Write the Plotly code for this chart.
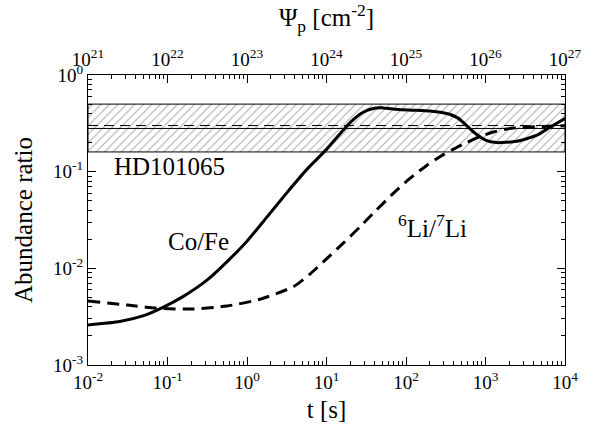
import plotly.graph_objects as go

# Co/Fe ratio versus log10 t [s]
co_fe_logt = [-2.0, -1.6, -1.3, -1.07, -0.8, -0.5, -0.25, 0.0, 0.25, 0.5, 0.75, 1.0, 1.2, 1.3, 1.45, 1.6,
              1.7, 1.75, 1.9, 2.1, 2.3, 2.45, 2.55, 2.65, 2.72, 2.85, 3.0, 3.14, 3.39, 3.64, 3.81, 4.0]
co_fe = [0.0026, 0.00282, 0.00324, 0.0039, 0.00513, 0.00759, 0.01175, 0.0191, 0.0339, 0.0603, 0.105, 0.170,
         0.263, 0.324, 0.407, 0.452, 0.457, 0.452, 0.44, 0.433, 0.424, 0.41, 0.393, 0.36, 0.323, 0.257, 0.212,
         0.200, 0.206, 0.237, 0.288, 0.355]

# 6Li/7Li ratio versus log10 t [s]
li_logt = [-2.0, -1.5, -1.094, -0.675, -0.255, 0.164, 0.583, 0.792, 1.003, 1.211, 1.421, 1.631, 1.84, 2.05,
           2.26, 2.469, 2.637, 2.763, 2.95, 3.098, 3.25, 3.392, 3.727, 4.0]
li_ratio = [0.0046, 0.00417, 0.00385, 0.0038, 0.00407, 0.00479, 0.00646, 0.00871, 0.0126, 0.0182, 0.0269,
            0.0403, 0.0596, 0.0851, 0.116, 0.150, 0.178, 0.200, 0.234, 0.257, 0.275, 0.285, 0.294, 0.299]

# Observed values for HD101065
obs_low, obs_high = 0.16, 0.50
obs_co_fe = 0.28
obs_li = 0.30

t_range = [-2, 4]
psi_range = [21, 27]
y_range = [-3, 0]

font_family = "Liberation Serif, Times New Roman, serif"
label_size = 25

co_t = [10.0 ** v for v in co_fe_logt]
li_t = [10.0 ** v for v in li_logt]
tmin, tmax = 10.0 ** t_range[0], 10.0 ** t_range[1]

fig = go.Figure()

# hatched observational band
fig.add_trace(go.Scatter(
    x=[tmin, tmax, tmax, tmin, tmin],
    y=[obs_low, obs_low, obs_high, obs_high, obs_low],
    mode="lines", fill="toself",
    fillcolor="white",
    fillpattern=dict(shape="/", size=6, solidity=0.16, fgcolor="#4d4d4d", bgcolor="white"),
    line=dict(color="black", width=1), hoverinfo="skip", showlegend=False,
))
fig.add_trace(go.Scatter(x=[tmin, tmax], y=[obs_co_fe, obs_co_fe], mode="lines",
                         line=dict(color="black", width=1), showlegend=False))
fig.add_trace(go.Scatter(x=[tmin, tmax], y=[obs_li, obs_li], mode="lines",
                         line=dict(color="black", width=1, dash="10px,6px"), showlegend=False))

fig.add_trace(go.Scatter(x=co_t, y=co_fe, mode="lines",
                         line=dict(color="black", width=3, shape="spline", smoothing=0.6),
                         name="Co/Fe", showlegend=False))
fig.add_trace(go.Scatter(x=li_t, y=li_ratio, mode="lines",
                         line=dict(color="black", width=3, dash="12px,7px", shape="spline", smoothing=0.6),
                         name="6Li/7Li", showlegend=False))

# invisible trace to carry the fluence axis
fig.add_trace(go.Scatter(x=[10.0 ** psi_range[0], 10.0 ** psi_range[1]], y=[1e-2, 1e-2], xaxis="x2",
                         mode="markers", marker=dict(opacity=0), hoverinfo="skip", showlegend=False))


def minor_vals(lo, hi):
    return [k * 10.0 ** e for e in range(lo, hi) for k in range(2, 10)]


def major(lo, hi):
    vals = [10.0 ** e for e in range(lo, hi + 1)]
    text = [f"10<sup>{e}</sup>" for e in range(lo, hi + 1)]
    return vals, text


xv, xt = major(t_range[0], t_range[1])
pv, pt = major(psi_range[0], psi_range[1])
yv, yt = major(y_range[0], y_range[1])

axis_common = dict(
    type="log", showgrid=False, zeroline=False, showline=True, linecolor="black", linewidth=1,
    ticks="inside", ticklen=8, tickwidth=1, tickcolor="black",
    tickfont=dict(family=font_family, size=19, color="black"),
    tickmode="array",
)
minor_common = dict(tickmode="array", ticks="inside", ticklen=4, tickcolor="black", showgrid=False)

fig.update_layout(
    width=594, height=430,
    margin=dict(l=88, r=29, t=75, b=60),
    plot_bgcolor="white", paper_bgcolor="white",
    font=dict(family=font_family, color="black"),
    xaxis=dict(**axis_common, range=t_range, tickvals=xv, ticktext=xt,
               minor=dict(**minor_common, tickvals=minor_vals(t_range[0], t_range[1])),
               title=dict(text="t [s]", font=dict(size=label_size), standoff=8)),
    xaxis2=dict(**axis_common, range=psi_range, tickvals=pv, ticktext=pt, overlaying="x", side="top",
                minor=dict(**minor_common, tickvals=minor_vals(psi_range[0], psi_range[1])),
                title=dict(text="Ψ<sub>p</sub> [cm<sup>-2</sup>]", font=dict(size=label_size), standoff=12)),
    yaxis=dict(**axis_common, range=y_range, tickvals=yv, ticktext=yt, mirror="ticks",
               minor=dict(**minor_common, tickvals=minor_vals(y_range[0], y_range[1])),
               title=dict(text="Abundance ratio", font=dict(size=label_size), standoff=13)),
)

fig.add_annotation(x=-1.70, y=-0.944, xref="x", yref="y", text="HD101065", showarrow=False,
                   xanchor="left", yanchor="middle", font=dict(size=label_size, family=font_family))
fig.add_annotation(x=-0.61, y=-1.726, xref="x", yref="y", text="Co/Fe", showarrow=False,
                   xanchor="center", yanchor="middle", font=dict(size=label_size, family=font_family))
fig.add_annotation(x=1.88, y=-1.56, xref="x", yref="y", text="<sup>6</sup>Li/<sup>7</sup>Li", showarrow=False,
                   xanchor="left", yanchor="middle", font=dict(size=label_size, family=font_family))

fig.write_html("out.html")
